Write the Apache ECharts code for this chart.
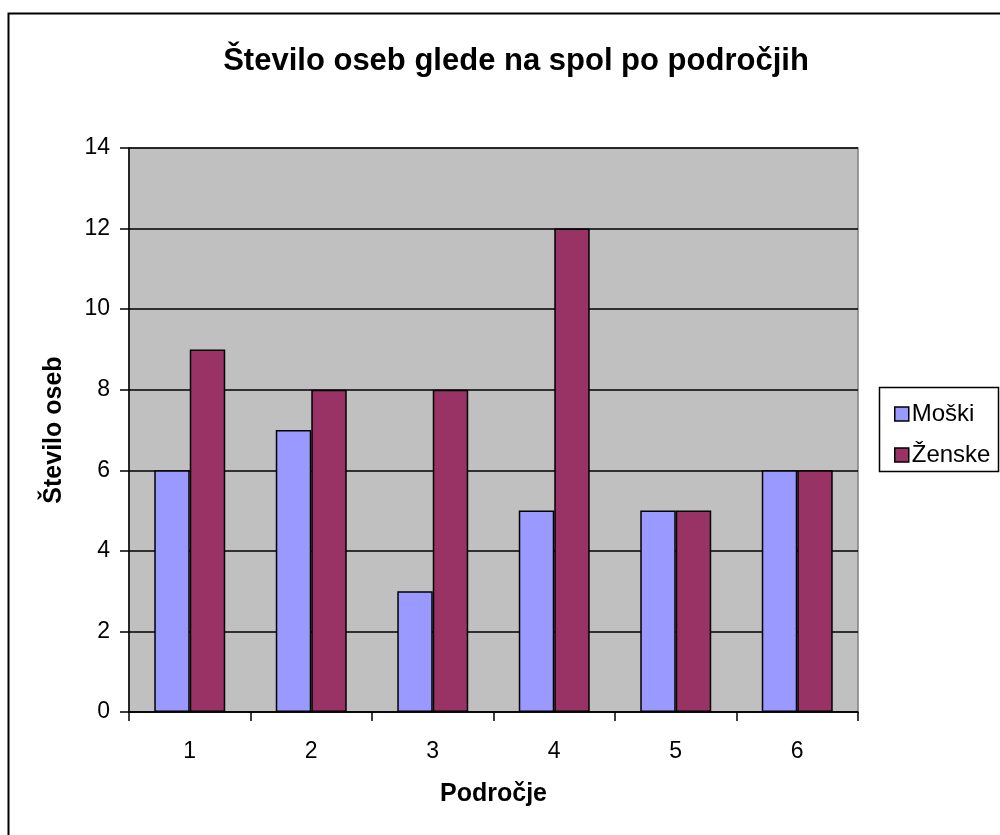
<!DOCTYPE html>
<html><head><meta charset="utf-8">
<script src="https://cdn.jsdelivr.net/npm/echarts@6/dist/echarts.min.js"></script>
<style>html,body{margin:0;padding:0;background:#fff}#c{width:1000px;height:835px}</style>
</head><body><div id="c"></div>
<script>
const categories = ['1','2','3','4','5','6'];
const moski = [6,7,3,5,5,6];
const zenske = [9,8,8,12,5,6];
const seriesNames = ['Moški','Ženske'];
const FONT = 'Liberation Sans, Arial, sans-serif';
const chart = echarts.init(document.getElementById('c'));
chart.setOption({
  animation:false,
  backgroundColor:'#ffffff',
  title:{text:'Število oseb glede na spol po področjih',left:511,textAlign:'center',top:41,
    textStyle:{fontFamily:FONT,fontSize:31,fontWeight:'bold',color:'#000'}},
  graphic:[{type:'rect',shape:{x:8.5,y:13.5,width:1200,height:1200},style:{fill:null,stroke:'#000',lineWidth:2},silent:true,z:-1},
    {type:'rect',shape:{x:879.5,y:387.5,width:119,height:84},style:{fill:'#fff',stroke:'#000',lineWidth:1.5},z:0}],
  legend:{orient:'vertical',left:889,top:397,itemWidth:14,itemHeight:14,itemGap:17,
    textStyle:{fontFamily:FONT,fontSize:24,color:'#000',padding:[0,0,0,-2]},
    data:seriesNames.map(n=>({name:n,icon:'rect',itemStyle:{borderColor:'#000',borderWidth:1.5}})),z:5},
  grid:{left:129,right:142,top:148,bottom:123,show:true,backgroundColor:'#C0C0C0',borderColor:'#808080',borderWidth:1.5},
  xAxis:{type:'category',data:categories,name:'Področje',nameLocation:'middle',nameGap:70,
    nameTextStyle:{fontFamily:FONT,fontSize:25,fontWeight:'bold',color:'#000'},
    axisLine:{lineStyle:{color:'#000',width:1.5}},
    axisTick:{show:true,length:9,lineStyle:{color:'#000',width:1.5}},
    axisLabel:{fontFamily:FONT,fontSize:23,color:'#000',margin:28}},
  yAxis:{type:'value',min:0,max:14,interval:2,name:'Število oseb',nameLocation:'middle',nameGap:62,
    nameTextStyle:{fontFamily:FONT,fontSize:25,fontWeight:'bold',color:'#000'},
    axisLine:{show:true,lineStyle:{color:'#000',width:1.5}},
    axisTick:{show:true,length:9,lineStyle:{color:'#000',width:1.5}},
    splitLine:{lineStyle:{color:'#000',width:1.5}},
    axisLabel:{fontFamily:FONT,fontSize:23,color:'#000',margin:19}},
  series:[
    {name:seriesNames[0],type:'bar',data:moski,barWidth:'29.2%',barGap:'0%',
      itemStyle:{color:'#9999FF',borderColor:'#000',borderWidth:1.5}},
    {name:seriesNames[1],type:'bar',data:zenske,barWidth:'29.2%',barGap:'0%',
      itemStyle:{color:'#993366',borderColor:'#000',borderWidth:1.5}}
  ]
});
</script></body></html>
